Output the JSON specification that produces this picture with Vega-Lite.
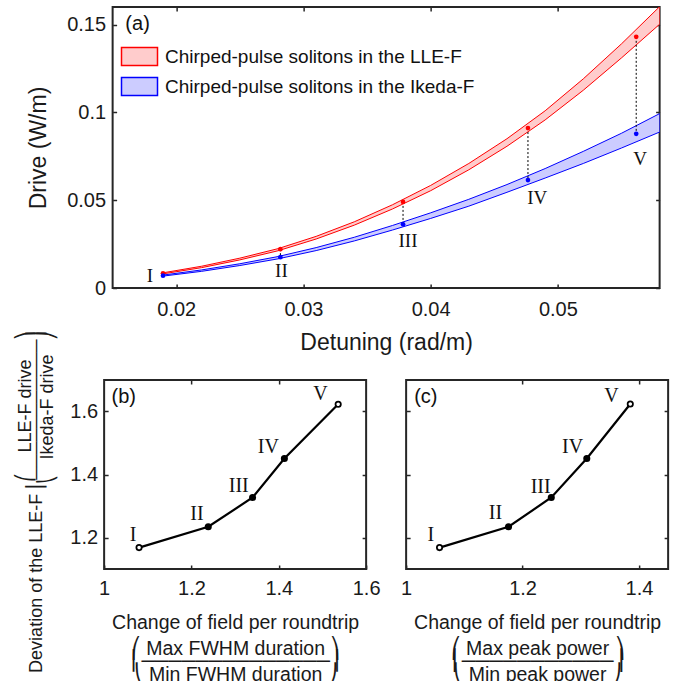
{
  "$schema": "https://vega.github.io/schema/vega-lite/v6.json",
  "padding": {"left": 15, "top": 5, "right": 0, "bottom": 0},
  "autosize": {"type": "pad"},
  "background": "white",
  "spacing": -26,
  "center": true,
  "config": {
    "view": {"stroke": "#262626", "strokeWidth": 2},
    "axis": {"domain": false, "grid": false, "ticks": true, "tickSize": -4, "tickWidth": 1.5, "tickColor": "#262626", "labelFlush": false, "labelFont": "Liberation Sans", "labelFontSize": 20, "labelColor": "#1a1a1a", "titleFont": "Liberation Sans", "titleColor": "#1a1a1a", "titleFontWeight": "normal"}
  },
  "datasets": {
    "bands": [
      {"series": "Chirped-pulse solitons in the LLE-F", "x": 0.019, "lo": 0.0081, "hi": 0.0087},
      {"series": "Chirped-pulse solitons in the LLE-F", "x": 0.022, "lo": 0.0116, "hi": 0.0124},
      {"series": "Chirped-pulse solitons in the LLE-F", "x": 0.025, "lo": 0.0160, "hi": 0.0170},
      {"series": "Chirped-pulse solitons in the LLE-F", "x": 0.028, "lo": 0.0212, "hi": 0.0224},
      {"series": "Chirped-pulse solitons in the LLE-F", "x": 0.031, "lo": 0.0279, "hi": 0.0294},
      {"series": "Chirped-pulse solitons in the LLE-F", "x": 0.034, "lo": 0.0358, "hi": 0.0377},
      {"series": "Chirped-pulse solitons in the LLE-F", "x": 0.037, "lo": 0.0450, "hi": 0.0474},
      {"series": "Chirped-pulse solitons in the LLE-F", "x": 0.040, "lo": 0.0554, "hi": 0.0584},
      {"series": "Chirped-pulse solitons in the LLE-F", "x": 0.043, "lo": 0.0673, "hi": 0.0709},
      {"series": "Chirped-pulse solitons in the LLE-F", "x": 0.046, "lo": 0.0807, "hi": 0.0850},
      {"series": "Chirped-pulse solitons in the LLE-F", "x": 0.049, "lo": 0.0957, "hi": 0.1009},
      {"series": "Chirped-pulse solitons in the LLE-F", "x": 0.052, "lo": 0.1126, "hi": 0.1191},
      {"series": "Chirped-pulse solitons in the LLE-F", "x": 0.055, "lo": 0.1310, "hi": 0.1390},
      {"series": "Chirped-pulse solitons in the LLE-F", "x": 0.058, "lo": 0.1502, "hi": 0.1602},
      {"series": "Chirped-pulse solitons in the Ikeda-F", "x": 0.019, "lo": 0.0068, "hi": 0.0074},
      {"series": "Chirped-pulse solitons in the Ikeda-F", "x": 0.022, "lo": 0.0095, "hi": 0.0103},
      {"series": "Chirped-pulse solitons in the Ikeda-F", "x": 0.025, "lo": 0.0128, "hi": 0.0138},
      {"series": "Chirped-pulse solitons in the Ikeda-F", "x": 0.028, "lo": 0.0166, "hi": 0.0179},
      {"series": "Chirped-pulse solitons in the Ikeda-F", "x": 0.031, "lo": 0.0213, "hi": 0.0230},
      {"series": "Chirped-pulse solitons in the Ikeda-F", "x": 0.034, "lo": 0.0268, "hi": 0.0289},
      {"series": "Chirped-pulse solitons in the Ikeda-F", "x": 0.037, "lo": 0.0330, "hi": 0.0356},
      {"series": "Chirped-pulse solitons in the Ikeda-F", "x": 0.040, "lo": 0.0396, "hi": 0.0428},
      {"series": "Chirped-pulse solitons in the Ikeda-F", "x": 0.043, "lo": 0.0466, "hi": 0.0505},
      {"series": "Chirped-pulse solitons in the Ikeda-F", "x": 0.046, "lo": 0.0545, "hi": 0.0589},
      {"series": "Chirped-pulse solitons in the Ikeda-F", "x": 0.049, "lo": 0.0626, "hi": 0.0680},
      {"series": "Chirped-pulse solitons in the Ikeda-F", "x": 0.052, "lo": 0.0709, "hi": 0.0778},
      {"series": "Chirped-pulse solitons in the Ikeda-F", "x": 0.055, "lo": 0.0797, "hi": 0.0881},
      {"series": "Chirped-pulse solitons in the Ikeda-F", "x": 0.058, "lo": 0.0888, "hi": 0.0993}
    ],
    "pts": [
      {"id": "I", "x": 0.01896, "lle": 0.00836, "ikeda": 0.00704},
      {"id": "II", "x": 0.02819, "lle": 0.02211, "ikeda": 0.01753},
      {"id": "III", "x": 0.03783, "lle": 0.04903, "ikeda": 0.03625},
      {"id": "IV", "x": 0.04765, "lle": 0.09107, "ikeda": 0.06145},
      {"id": "V", "x": 0.05616, "lle": 0.1430, "ikeda": 0.0878}
    ],
    "labA": [
      {"t": "I", "x": 0.01793, "y": 0.00704},
      {"t": "II", "x": 0.02827, "y": 0.00991},
      {"t": "III", "x": 0.03822, "y": 0.02669},
      {"t": "IV", "x": 0.04838, "y": 0.05097},
      {"t": "V", "x": 0.05647, "y": 0.07331},
      {"t": "(a)", "x": 0.0160, "y": 0.1502}
    ],
    "devB": [
      {"id": "I", "x": 1.080, "y": 1.168, "style": "open"},
      {"id": "II", "x": 1.2385, "y": 1.234, "style": "solid"},
      {"id": "III", "x": 1.340, "y": 1.327, "style": "solid"},
      {"id": "IV", "x": 1.4128, "y": 1.451, "style": "solid"},
      {"id": "V", "x": 1.536, "y": 1.623, "style": "open"}
    ],
    "devC": [
      {"id": "I", "x": 1.0574, "y": 1.168, "style": "open"},
      {"id": "II", "x": 1.1759, "y": 1.234, "style": "solid"},
      {"id": "III", "x": 1.2493, "y": 1.327, "style": "solid"},
      {"id": "IV", "x": 1.3103, "y": 1.451, "style": "solid"},
      {"id": "V", "x": 1.385, "y": 1.624, "style": "open"}
    ],
    "labB": [
      {"t": "I", "x": 1.0665, "y": 1.2084},
      {"t": "II", "x": 1.2126, "y": 1.2758},
      {"t": "III", "x": 1.3082, "y": 1.3622},
      {"t": "IV", "x": 1.3762, "y": 1.4879},
      {"t": "V", "x": 1.4954, "y": 1.6571}
    ],
    "labC": [
      {"t": "I", "x": 1.0424, "y": 1.2073},
      {"t": "II", "x": 1.1533, "y": 1.2792},
      {"t": "III", "x": 1.2311, "y": 1.3615},
      {"t": "IV", "x": 1.2859, "y": 1.4881},
      {"t": "V", "x": 1.3529, "y": 1.6503}
    ],
    "tagB": [{"t": "(b)", "x": 1.017, "y": 1.6476}],
    "tagC": [{"t": "(c)", "x": 1.0138, "y": 1.645}]
  },
  "vconcat": [
    {
      "width": 547,
      "height": 281,
      "resolve": {"axis": {"x": "independent", "y": "independent"}},
      "layer": [
        {
          "data": {"name": "bands"},
          "mark": {"type": "area", "clip": true, "strokeWidth": 1, "fillOpacity": 1},
          "encoding": {
            "x": {"field": "x", "type": "quantitative", "scale": {"domain": [0.015, 0.058], "nice": false, "zero": false},
                  "axis": {"values": [0.02, 0.03, 0.04, 0.05], "format": "~g", "labelPadding": 15, "title": "Detuning (rad/m)", "titleFontSize": 23, "titleY": 54, "titleBaseline": "middle"}},
            "y": {"field": "hi", "type": "quantitative", "scale": {"domain": [0, 0.16], "nice": false, "zero": false},
                  "axis": {"values": [0, 0.05, 0.1, 0.15], "format": "~g", "labelPadding": 11, "title": "Drive (W/m)", "titleFontSize": 23, "titleX": -74, "titleBaseline": "middle"}},
            "y2": {"field": "lo"},
            "fill": {"field": "series", "type": "nominal",
                     "scale": {"domain": ["Chirped-pulse solitons in the LLE-F", "Chirped-pulse solitons in the Ikeda-F"], "range": ["#ffcccc", "#ccccff"]},
                     "legend": {"orient": "none", "legendX": 26, "legendY": 40, "title": null, "padding": 0, "symbolType": "M-3.6,-1.8H3.6V1.8H-3.6Z", "symbolSize": 100, "symbolStrokeWidth": 1.5, "labelFont": "Liberation Sans", "labelFontSize": 19, "labelColor": "#111", "labelOffset": 16, "rowPadding": 5, "labelLimit": 400}},
            "stroke": {"field": "series", "type": "nominal",
                     "scale": {"domain": ["Chirped-pulse solitons in the LLE-F", "Chirped-pulse solitons in the Ikeda-F"], "range": ["#ff0000", "#0000ff"]},
                     "legend": {"orient": "none", "legendX": 26, "legendY": 40, "title": null, "padding": 0, "symbolType": "M-3.6,-1.8H3.6V1.8H-3.6Z", "symbolSize": 100, "symbolStrokeWidth": 1.5, "labelFont": "Liberation Sans", "labelFontSize": 19, "labelColor": "#111", "labelOffset": 16, "rowPadding": 5, "labelLimit": 400}}
          }
        },
        {
          "data": {"name": "pts"},
          "mark": {"type": "rule", "strokeDash": [2, 2], "color": "#000000", "strokeWidth": 1},
          "encoding": {
            "x": {"field": "x", "type": "quantitative", "axis": {"orient": "top", "values": [0.02, 0.03, 0.04, 0.05], "labels": false, "title": null}},
            "y": {"field": "lle", "type": "quantitative", "axis": {"orient": "right", "values": [0, 0.05, 0.1, 0.15], "labels": false, "title": null}},
            "y2": {"field": "ikeda"}
          }
        },
        {
          "data": {"name": "pts"},
          "mark": {"type": "circle", "size": 22, "color": "#ff0000", "opacity": 1},
          "encoding": {
            "x": {"field": "x", "type": "quantitative", "axis": null},
            "y": {"field": "lle", "type": "quantitative", "axis": null}
          }
        },
        {
          "data": {"name": "pts"},
          "mark": {"type": "circle", "size": 22, "color": "#0000ff", "opacity": 1},
          "encoding": {
            "x": {"field": "x", "type": "quantitative", "axis": null},
            "y": {"field": "ikeda", "type": "quantitative", "axis": null}
          }
        },
        {
          "data": {"name": "labA"},
          "transform": [{"filter": "datum.t !== '(a)'"}],
          "mark": {"type": "text", "font": "Liberation Serif", "fontSize": 19, "color": "#111"},
          "encoding": {
            "x": {"field": "x", "type": "quantitative", "axis": null},
            "y": {"field": "y", "type": "quantitative", "axis": null},
            "text": {"field": "t"}
          }
        },
        {
          "data": {"name": "labA"},
          "transform": [{"filter": "datum.t === '(a)'"}],
          "mark": {"type": "text", "font": "Liberation Sans", "fontSize": 20, "align": "left", "color": "#111"},
          "encoding": {
            "x": {"field": "x", "type": "quantitative", "axis": null},
            "y": {"field": "y", "type": "quantitative", "axis": null},
            "text": {"field": "t"}
          }
        }
      ]
    },
    {
      "spacing": 18,
      "bounds": "full",
      "hconcat": [
        {
          "width": 262,
          "height": 189,
          "resolve": {"axis": {"x": "independent", "y": "independent"}},
          "layer": [
            {
              "data": {"name": "devB"},
              "mark": {"type": "line", "color": "#000000", "strokeWidth": 2.2},
              "encoding": {
                "x": {"field": "x", "type": "quantitative", "scale": {"domain": [1, 1.6], "nice": false, "zero": false},
                      "axis": {"values": [1, 1.2, 1.4, 1.6], "format": "~g", "labelPadding": 13.5,
                               "title": ["Change of field per roundtrip", "⎛\u00a0Max FWHM duration\u00a0⎞", "⎝\u00a0Min FWHM duration\u00a0⎠"],
                               "titleFontSize": 19.5, "titleLineHeight": 26, "titleBaseline": "top", "titleY": 44}},
                "y": {"field": "y", "type": "quantitative", "scale": {"domain": [1.1, 1.7], "nice": false, "zero": false},
                      "axis": {"values": [1.2, 1.4, 1.6], "format": "~g", "labelPadding": 10.5,
                               "title": ["⎛\u00a0\u00a0\u00a0\u00a0LLE-F drive\u00a0\u00a0\u00a0\u00a0⎞", "Deviation of the LLE-F ⎜───────────⎟", "⎝\u00a0\u00a0\u00a0Ikeda-F drive\u00a0\u00a0\u00a0⎠"],
                               "titleFontSize": 18, "titleLineHeight": 11, "titleBaseline": "top", "titleAlign": "right", "titleAngle": -90, "titleX": -88, "titleY": -50}}
              }
            },
            {
              "data": {"name": "devB"},
              "mark": {"type": "point", "shape": "circle", "filled": true, "size": 28, "stroke": "#000000", "strokeWidth": 1.8, "opacity": 1},
              "encoding": {
                "x": {"field": "x", "type": "quantitative", "axis": {"orient": "top", "values": [1.2, 1.4], "labels": false, "title": null}},
                "y": {"field": "y", "type": "quantitative", "axis": {"orient": "right", "values": [1.2, 1.4, 1.6], "labels": false, "title": null}},
                "fill": {"condition": {"test": "datum.style === 'open'", "value": "#ffffff"}, "value": "#000000"}
              }
            },
            {
              "data": {"name": "labB"},
              "mark": {"type": "text", "font": "Liberation Serif", "fontSize": 20, "color": "#111"},
              "encoding": {
                "x": {"field": "x", "type": "quantitative", "axis": {"orient": "bottom", "labels": false, "ticks": false, "title": "⎜──────────────⎟", "titleFontSize": 19, "titleBaseline": "middle", "titleY": 91}},
                "y": {"field": "y", "type": "quantitative", "axis": null},
                "text": {"field": "t"}
              }
            },
            {
              "data": {"name": "tagB"},
              "mark": {"type": "text", "font": "Liberation Sans", "fontSize": 20, "align": "left", "color": "#111"},
              "encoding": {
                "x": {"field": "x", "type": "quantitative", "axis": null},
                "y": {"field": "y", "type": "quantitative", "axis": null},
                "text": {"field": "t"}
              }
            }
          ]
        },
        {
          "width": 262,
          "height": 189,
          "resolve": {"axis": {"x": "independent", "y": "independent"}},
          "layer": [
            {
              "data": {"name": "devC"},
              "mark": {"type": "line", "color": "#000000", "strokeWidth": 2.2},
              "encoding": {
                "x": {"field": "x", "type": "quantitative", "scale": {"domain": [1, 1.45], "nice": false, "zero": false},
                      "axis": {"values": [1, 1.2, 1.4], "format": "~g", "labelPadding": 13.5,
                               "title": ["Change of field per roundtrip", "⎛\u00a0Max peak power\u00a0⎞", "⎝\u00a0Min peak power\u00a0⎠"],
                               "titleFontSize": 19.5, "titleLineHeight": 26, "titleBaseline": "top", "titleY": 44}},
                "y": {"field": "y", "type": "quantitative", "scale": {"domain": [1.1, 1.7], "nice": false, "zero": false},
                      "axis": {"values": [1.2, 1.4, 1.6], "labels": false, "title": null}}
              }
            },
            {
              "data": {"name": "devC"},
              "mark": {"type": "point", "shape": "circle", "filled": true, "size": 28, "stroke": "#000000", "strokeWidth": 1.8, "opacity": 1},
              "encoding": {
                "x": {"field": "x", "type": "quantitative", "axis": {"orient": "top", "values": [1.2, 1.4], "labels": false, "title": null}},
                "y": {"field": "y", "type": "quantitative", "axis": {"orient": "right", "values": [1.2, 1.4, 1.6], "labels": false, "title": null}},
                "fill": {"condition": {"test": "datum.style === 'open'", "value": "#ffffff"}, "value": "#000000"}
              }
            },
            {
              "data": {"name": "labC"},
              "mark": {"type": "text", "font": "Liberation Serif", "fontSize": 20, "color": "#111"},
              "encoding": {
                "x": {"field": "x", "type": "quantitative", "axis": {"orient": "bottom", "labels": false, "ticks": false, "title": "⎜───────────⎟", "titleFontSize": 19.5, "titleBaseline": "middle", "titleY": 91}},
                "y": {"field": "y", "type": "quantitative", "axis": null},
                "text": {"field": "t"}
              }
            },
            {
              "data": {"name": "tagC"},
              "mark": {"type": "text", "font": "Liberation Sans", "fontSize": 20, "align": "left", "color": "#111"},
              "encoding": {
                "x": {"field": "x", "type": "quantitative", "axis": null},
                "y": {"field": "y", "type": "quantitative", "axis": null},
                "text": {"field": "t"}
              }
            }
          ]
        }
      ]
    }
  ]
}
